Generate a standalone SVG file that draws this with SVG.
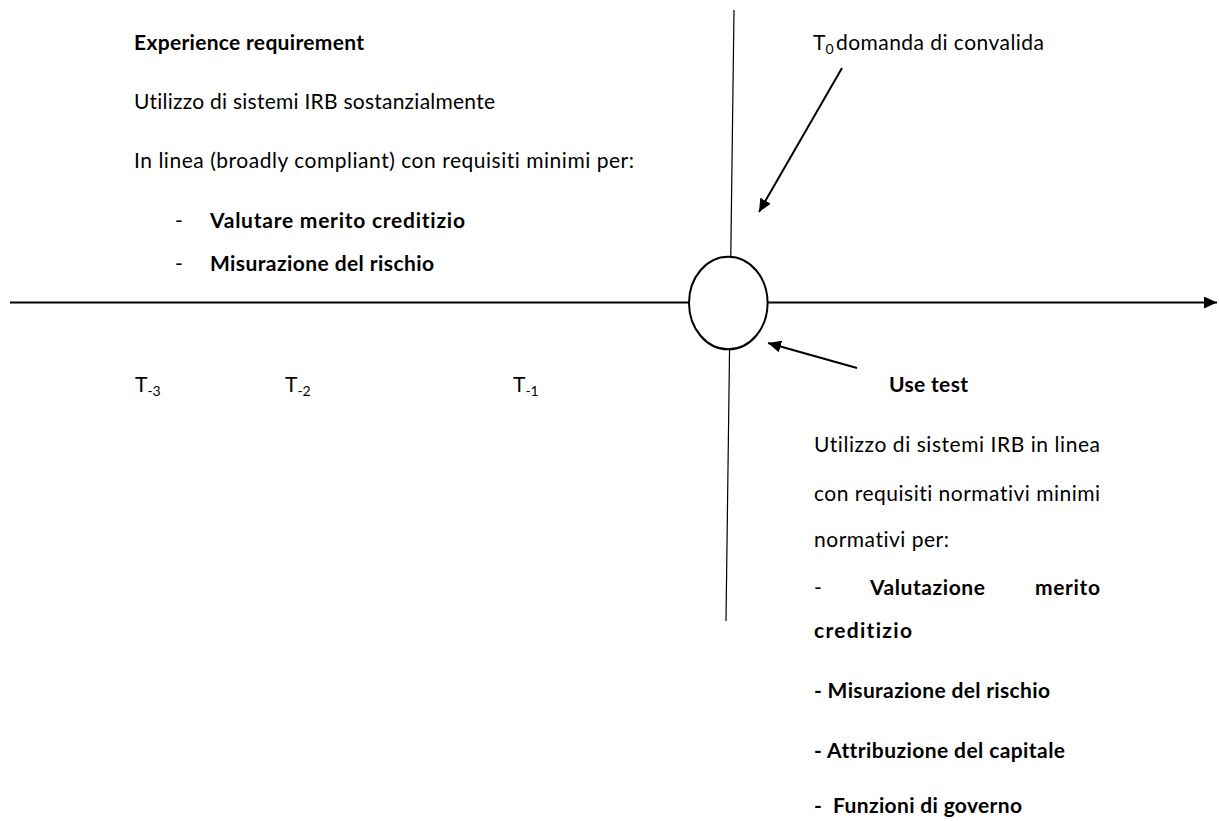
<svg xmlns="http://www.w3.org/2000/svg" width="1219" height="821" viewBox="0 0 1219 821">
<defs>
<style>
text{font-family:Lato,"Noto Sans","Liberation Sans",sans-serif;font-size:21px;fill:#000;font-variant-ligatures:none;font-feature-settings:"liga" 0}
.b{font-weight:bold}
.sub{font-size:14px}
.ln{stroke:#000;fill:none}
</style>
<marker id="ah" markerUnits="userSpaceOnUse" markerWidth="14" markerHeight="12" refX="13" refY="6" orient="auto">
<path d="M0,0 L13,6 L0,12 z" fill="#000"/>
</marker>
</defs>
<rect width="1219" height="821" fill="#fff"/>
<g id="connectors">
<line class="ln" x1="10" y1="302.5" x2="1217" y2="302.5" stroke-width="2" marker-end="url(#ah)"/>
<line class="ln" x1="734" y1="10" x2="726" y2="621" stroke-width="1.2"/>
<line class="ln" x1="842" y1="68" x2="759" y2="212" stroke-width="2" marker-end="url(#ah)"/>
<line class="ln" x1="857" y1="368" x2="768" y2="343" stroke-width="2" marker-end="url(#ah)"/>
</g>
<g id="t0-node">
<ellipse cx="728.3" cy="303" rx="39.3" ry="46.3" fill="#fff" stroke="#000" stroke-width="2"/>
</g>
<g id="experience">
<text class="b" x="134" y="50" textLength="230">Experience requirement</text>
<text x="134" y="109" textLength="361">Utilizzo di sistemi IRB sostanzialmente</text>
<text x="134" y="168" textLength="500">In linea (broadly compliant) con requisiti minimi per:</text>
<text x="175" y="228">-</text>
<text class="b" x="210" y="228" textLength="255">Valutare merito creditizio</text>
<text x="175" y="271">-</text>
<text class="b" x="210" y="271" textLength="224">Misurazione del rischio</text>
</g>
<g id="timeline">
<text x="135" y="392">T<tspan class="sub" dy="4">-3</tspan></text>
<text x="285" y="392">T<tspan class="sub" dy="4">-2</tspan></text>
<text x="513" y="392">T<tspan class="sub" dy="4">-1</tspan></text>
</g>
<g id="t0-label">
<text x="813" y="50">T<tspan class="sub" dy="4">0</tspan><tspan x="836" dy="-4" textLength="208">domanda di convalida</tspan></text>
</g>
<g id="use-test">
<text class="b" x="889" y="392" textLength="79">Use test</text>
<text x="814" y="452" textLength="286">Utilizzo di sistemi IRB in linea</text>
<text x="814" y="501" textLength="286">con requisiti normativi minimi</text>
<text x="814" y="547" textLength="135">normativi per:</text>
<text x="814" y="595">-</text>
<text class="b" x="870" y="595" textLength="115">Valutazione</text>
<text class="b" x="1035" y="595" textLength="65">merito</text>
<text class="b" x="814" y="638" textLength="98">creditizio</text>
<text class="b" x="814" y="698" textLength="236">- Misurazione del rischio</text>
<text class="b" x="814" y="758" textLength="251">- Attribuzione del capitale</text>
<text class="b" x="814" y="813" textLength="208" xml:space="preserve">-  Funzioni di governo</text>
</g>
</svg>
